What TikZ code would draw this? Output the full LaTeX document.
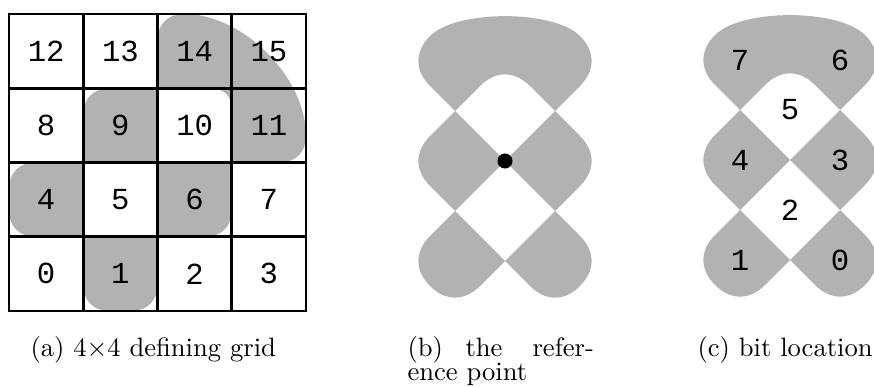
\documentclass[tikz,border=0pt]{standalone}
\usepackage{fontspec}
\newfontfamily\digitfont{Liberation Mono}

% The five shaded regions of the 4x4 grid, in grid units (cell = 1).
% #1 = rounding of the outer corners, #2 = control of the large corner,
% #3 = rounding of the inner corner of the top region.
% A rounded corner starts #1 before its vertex; its control points lie
% 0.38*#1 from the vertex.
\newcommand\bitregions[3]{%
  \fill[bitfill] (2,3) -- (2,{4-#1})
     .. controls (2,{4-0.38*#1}) and ({2+0.38*#1},4) .. ({2+#1},4)
     .. controls (#2,4) and (4,#2) .. (4,{2+#1})
     .. controls (4,{2+0.38*#1}) and ({4-0.38*#1},2) .. ({4-#1},2)
     -- (3,2) -- (3,{3-#3})
     .. controls (3,{3-0.38*#3}) and ({3-0.38*#3},3) .. ({3-#3},3) -- cycle;
  \fill[bitfill] (1,2) -- (1,{3-#1})
     .. controls (1,{3-0.38*#1}) and ({1+0.38*#1},3) .. ({1+#1},3)
     -- (2,3) -- (2,2) -- cycle;
  \fill[bitfill] (2,1) -- ({3-#1},1)
     .. controls ({3-0.38*#1},1) and (3,{1+0.38*#1}) .. (3,{1+#1})
     -- (3,2) -- (2,2) -- cycle;
  \fill[bitfill] (1,1) -- (#1,1)
     .. controls ({0.38*#1},1) and (0,{1+0.38*#1}) .. (0,{1+#1})
     -- (0,{2-#1})
     .. controls (0,{2-0.38*#1}) and ({0.38*#1},2) .. (#1,2)
     -- (1,2) -- cycle;
  \fill[bitfill] (1,1) -- (1,#1)
     .. controls (1,{0.38*#1}) and ({1+0.38*#1},0) .. ({1+#1},0)
     -- ({2-#1},0)
     .. controls ({2-0.38*#1},0) and (2,{0.38*#1}) .. (2,#1)
     -- (2,1) -- cycle;
}

\begin{document}
\begin{tikzpicture}[x=0.3759pt, y=-0.3759pt,
  bitfill/.style={fill=black!30},
  cellnum/.style={font=\digitfont\fontsize{11.5}{13}\selectfont, inner sep=0pt},
  captext/.style={font=\fontsize{10}{12}\selectfont, inner sep=0pt, anchor=base west},
  gridline/.style={line width=1pt, line cap=rect},
  refdot/.style={circle, fill=black, inner sep=0pt, minimum size=5.64pt},
]
\useasboundingbox (0,0) rectangle (874,387);

% (a) the defining grid
\begin{scope}[shift={(9,311)}, x=27.91pt, y=27.91pt]
  \bitregions{0.36}{3.15}{0.28}
  \foreach \i in {0,...,4} {
    \draw[gridline] (\i,0) -- (\i,4);
    \draw[gridline] (0,\i) -- (4,\i);
  }
  \foreach \k in {0,...,15} {
    \pgfmathtruncatemacro\col{mod(\k,4)}
    \pgfmathtruncatemacro\row{div(\k,4)}
    \node[cellnum] (g\k) at (\col+0.5,\row+0.5) {\k};
  }
\end{scope}

% (b) the grid turned by 45 degrees around its reference point
\begin{scope}[shift={(505,161)}, x={(18.795pt,18.795pt)}, y={(-18.795pt,18.795pt)}, shift={(-2,-2)}]
  \bitregions{0.5}{3.03}{0.5}
\end{scope}
\node[refdot] (ref) at (505,161) {};

% (c) bit numbering on the turned grid
\begin{scope}[shift={(790,160)}, x={(18.795pt,18.795pt)}, y={(-18.795pt,18.795pt)}, shift={(-2,-2)}]
  \bitregions{0.5}{3.03}{0.5}
  \node[cellnum] (b7) at (2.5,3.5) {7};
  \node[cellnum] (b6) at (3.5,2.5) {6};
  \node[cellnum] (b5) at (2.5,2.5) {5};
  \node[cellnum] (b4) at (1.5,2.5) {4};
  \node[cellnum] (b3) at (2.5,1.5) {3};
  \node[cellnum] (b2) at (1.5,1.5) {2};
  \node[cellnum] (b1) at (0.5,1.5) {1};
  \node[cellnum] (b0) at (1.5,0.5) {0};
\end{scope}

% captions
\node[captext] (capa) at (30,356) {(a) 4$\times$4 defining grid};
\node[captext] (capb1) at (407,356) {(b)};
\node[captext] (capb2) at (465,356) {the};
\node[captext] (capb3) at (532,356) {refer-};
\node[captext] (capb4) at (407,380) {ence point};
\node[captext] (capc) at (697,356) {(c) bit location};
\end{tikzpicture}
\end{document}
